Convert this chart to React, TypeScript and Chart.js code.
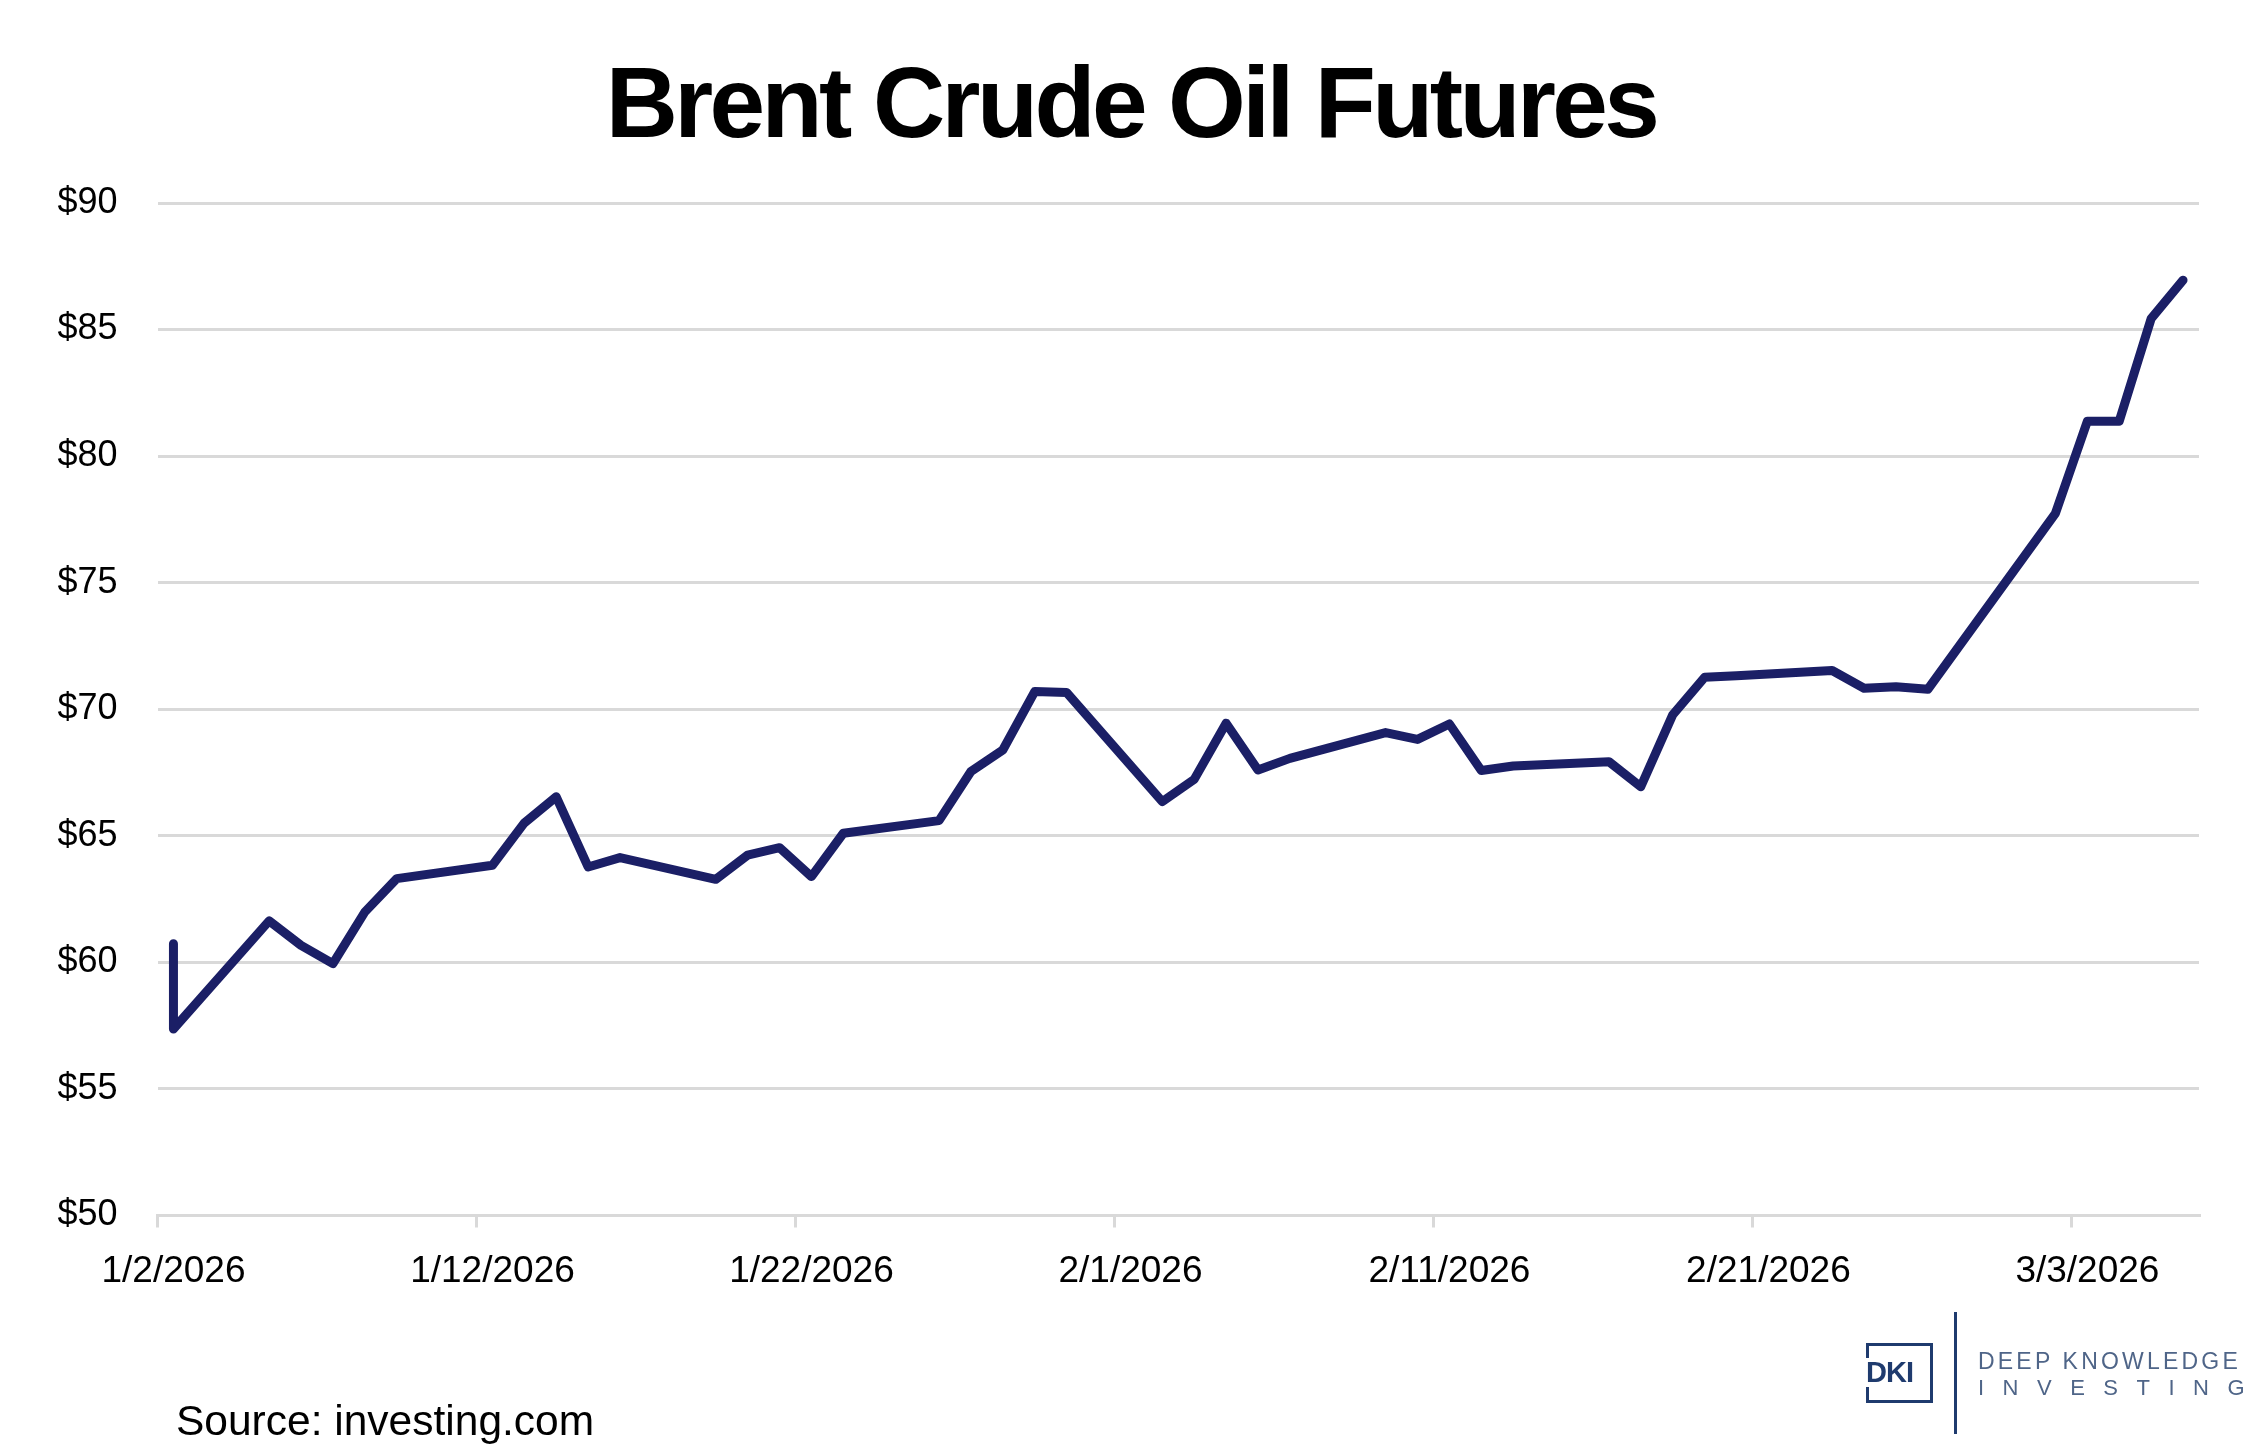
import React, { useEffect, useRef } from "react";
import { Chart, registerables } from "chart.js";

Chart.register(...registerables);

const TITLE = "Brent Crude Oil Futures";
const SOURCE = "Source: investing.com";

// Trading dates (the first date appears twice in the source data)
const dates = [
  "1/2/2026", "1/2/2026", "1/5/2026", "1/6/2026", "1/7/2026", "1/8/2026", "1/9/2026",
  "1/12/2026", "1/13/2026", "1/14/2026", "1/15/2026", "1/16/2026",
  "1/19/2026", "1/20/2026", "1/21/2026", "1/22/2026", "1/23/2026",
  "1/26/2026", "1/27/2026", "1/28/2026", "1/29/2026", "1/30/2026",
  "2/2/2026", "2/3/2026", "2/4/2026", "2/5/2026", "2/6/2026",
  "2/9/2026", "2/10/2026", "2/11/2026", "2/12/2026", "2/13/2026",
  "2/16/2026", "2/17/2026", "2/18/2026", "2/19/2026", "2/20/2026",
  "2/23/2026", "2/24/2026", "2/25/2026", "2/26/2026",
  "3/2/2026", "3/3/2026", "3/4/2026", "3/5/2026", "3/6/2026",
];

// Brent futures price, USD
const prices = [
  60.74, 57.37, 61.64, 60.67, 59.95, 61.99, 63.31,
  63.84, 65.51, 66.54, 63.77, 64.14,
  63.28, 64.24, 64.53, 63.39, 65.10,
  65.60, 67.54, 68.39, 70.70, 70.66,
  66.35, 67.23, 69.45, 67.60, 68.06,
  69.08, 68.81, 69.42, 67.58, 67.76,
  67.93, 66.94, 69.78, 71.26, 71.32,
  71.53, 70.83, 70.89, 70.79,
  77.74, 81.38, 81.38, 85.43, 86.95,
];

const tickDates = ["1/2/2026", "1/12/2026", "1/22/2026", "2/1/2026", "2/11/2026", "2/21/2026", "3/3/2026"];
const axisEndDate = "3/7/2026";

const Y_MIN = 50;
const Y_MAX = 90;
const Y_STEP = 5;

const NAVY = "#1B1F66";
const GRID = "#D9D9D9";
const FONT = "'Liberation Sans', Arial, Helvetica, sans-serif";

function toUTC(s: string): number {
  const [m, d, y] = s.split("/").map(Number);
  return Date.UTC(y, m - 1, d);
}
const ORIGIN = toUTC(tickDates[0]);
function dayOffset(s: string): number {
  return (toUTC(s) - ORIGIN) / 86400000;
}

export default function App() {
  const canvasRef = useRef<HTMLCanvasElement | null>(null);

  useEffect(() => {
    const canvas = canvasRef.current;
    if (!canvas) return;
    // Excel date axis: each value sits in the middle of its day slot
    const points = dates.map((d, i) => ({ x: dayOffset(d) + 0.5, y: prices[i] }));

    const chart = new Chart(canvas, {
      type: "line",
      data: {
        datasets: [
          {
            data: points,
            borderColor: NAVY,
            backgroundColor: NAVY,
            borderWidth: 9,
            pointRadius: 0,
            pointHoverRadius: 0,
            borderCapStyle: "round",
            borderJoinStyle: "round",
            tension: 0,
            fill: false,
          },
        ],
      },
      options: {
        animation: false,
        responsive: false,
        devicePixelRatio: 1,
        events: [],
        layout: { padding: { top: 203, right: 63, bottom: 0, left: 0 } },
        plugins: {
          legend: { display: false },
          title: { display: false },
          tooltip: { enabled: false },
        },
        scales: {
          x: {
            type: "linear",
            min: 0,
            max: dayOffset(axisEndDate),
            afterBuildTicks: (scale: any) => {
              scale.ticks = tickDates.map((t) => ({ value: dayOffset(t) }));
            },
            afterFit: (scale: any) => {
              scale.height = 238.5;
            },
            ticks: {
              callback: (_v: any, i: number) => tickDates[i],
              labelOffset: 16,
              padding: 22,
              maxRotation: 0,
              autoSkip: false,
              color: "#000000",
              font: { family: FONT, size: 37 },
            },
            grid: {
              drawOnChartArea: false,
              drawTicks: true,
              tickLength: 12,
              color: GRID,
              lineWidth: 3,
            },
            border: { display: true, color: GRID, width: 3 },
          },
          y: {
            type: "linear",
            min: Y_MIN,
            max: Y_MAX,
            afterFit: (scale: any) => {
              scale.width = 157.5;
            },
            ticks: {
              stepSize: Y_STEP,
              callback: (v: any) => "$" + v,
              padding: 40,
              color: "#000000",
              font: { family: FONT, size: 36 },
            },
            grid: { color: GRID, lineWidth: 3, drawTicks: false },
            border: { display: false },
          },
        },
      },
    });
    return () => chart.destroy();
  }, []);

  return (
    <div
      style={{
        position: "absolute",
        left: 0,
        top: 0,
        width: 2262,
        height: 1454,
        overflow: "hidden",
        background: "#ffffff",
        fontFamily: FONT,
      }}
    >
      <canvas
        ref={canvasRef}
        width={2262}
        height={1454}
        style={{ position: "absolute", left: 0, top: 0, width: 2262, height: 1454 }}
      />
      <div
        style={{
          position: "absolute",
          left: 0,
          top: 52,
          width: 2262,
          textAlign: "center",
          fontSize: 100,
          lineHeight: "100px",
          fontWeight: 700,
          letterSpacing: "-3.6px",
          color: "#000000",
          whiteSpace: "nowrap",
        }}
      >
        {TITLE}
      </div>
      <div
        style={{
          position: "absolute",
          left: 176,
          top: 1400,
          fontSize: 42.5,
          lineHeight: "42px",
          color: "#000000",
          whiteSpace: "nowrap",
        }}
      >
        {SOURCE}
      </div>
      {/* DKI logo */}
      <div
        style={{
          position: "absolute",
          left: 1866,
          top: 1343,
          width: 67,
          height: 60,
          boxSizing: "border-box",
          border: "3px solid #1F3B6E",
        }}
      >
        <div
          style={{
            position: "absolute",
            left: -3,
            top: 12,
            background: "#ffffff",
            color: "#1F3B6E",
            fontWeight: 700,
            fontSize: 29,
            lineHeight: "29px",
            letterSpacing: "-1px",
            paddingRight: 2,
          }}
        >
          DKI
        </div>
      </div>
      <div
        style={{
          position: "absolute",
          left: 1954,
          top: 1312,
          width: 3,
          height: 122,
          background: "#1F3B6E",
        }}
      />
      <div
        style={{
          position: "absolute",
          left: 1978,
          top: 1350,
          fontSize: 23,
          lineHeight: "23px",
          letterSpacing: "3.2px",
          color: "#4F6588",
          whiteSpace: "nowrap",
        }}
      >
        DEEP KNOWLEDGE
      </div>
      <div
        style={{
          position: "absolute",
          left: 1978,
          top: 1377,
          fontSize: 22,
          lineHeight: "22px",
          letterSpacing: "18.5px",
          color: "#4F6588",
          whiteSpace: "nowrap",
        }}
      >
        INVESTING
      </div>
    </div>
  );
}
